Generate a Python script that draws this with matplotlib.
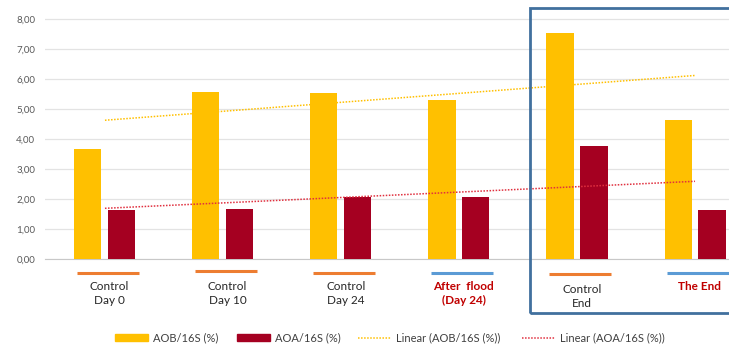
import numpy as np
import matplotlib.pyplot as plt
from matplotlib.patches import Patch, Rectangle
from matplotlib.lines import Line2D

plt.rcParams['font.family'] = ['Lato', 'DejaVu Sans']

groups = ["Control\nDay 0", "Control\nDay 10", "Control\nDay 24",
          "After  flood\n(Day 24)", "Control\nEnd", "The End"]
aob = [3.67, 5.57, 5.53, 5.30, 7.53, 4.63]
aoa = [1.63, 1.67, 2.07, 2.07, 3.77, 1.63]
flooded = [False, False, False, True, False, True]

yellow = "#FFC000"
darkred = "#A50021"
trendred = "#E0303F"
orange = "#ED7D31"
blue = "#5B9BD5"

x = np.arange(len(groups))
w = 0.229
off = 0.144

fig = plt.figure(figsize=(7.29, 3.49), dpi=100)
ax = fig.add_axes([45 / 729, 90 / 349, 684 / 729, 246 / 349])

ax.bar(x - off, aob, width=w, color=yellow, zorder=3)
ax.bar(x + off, aoa, width=w, color=darkred, zorder=3)

# linear trend lines over the group positions
for vals, col in [(aob, yellow), (aoa, trendred)]:
    k, b = np.polyfit(x + 1, vals, 1)
    ax.plot(x, k * (x + 1) + b, linestyle=(0, (1, 1)), color=col, lw=1.1, zorder=4)

ax.set_xlim(-0.508, 5.288)
ax.set_ylim(0, 8.2)
ax.set_yticks(np.arange(0, 9, 1))
ax.set_yticklabels([f"{v:.2f}".replace(".", ",") for v in range(9)],
                   fontsize=7, color="#595959")
ax.set_xticks([])
ax.grid(axis="y", color="#E3E3E3", lw=0.9, zorder=0)
for s in ["top", "right", "left"]:
    ax.spines[s].set_visible(False)
ax.spines["bottom"].set_color("#C8C8C8")
ax.tick_params(axis="y", length=0, pad=7)

# coloured markers and labels under each group
mark_y = [-0.47, -0.40, -0.47, -0.47, -0.50, -0.47]
for i, g in enumerate(groups):
    col = blue if flooded[i] else orange
    ax.plot([i - 0.24, i + 0.29], [mark_y[i]] * 2, color=col, lw=2.2,
            solid_capstyle="butt", clip_on=False)
    tcol = "#C00000" if flooded[i] else "#262626"
    fw = "bold" if flooded[i] else "normal"
    ty = -0.72 if i != 4 else -0.82
    ax.text(i + 0.04, ty, g, ha="center", va="top", fontsize=8.5,
            color=tcol, fontweight=fw, linespacing=1.35, clip_on=False)

fig.patches.append(Rectangle((530 / 729, 36 / 349), 220 / 729, 305 / 349,
                             transform=fig.transFigure, fill=False,
                             edgecolor="#41709E", lw=2, zorder=5))

# legend entries placed one by one along the bottom
handles = [Patch(color=yellow), Patch(color=darkred),
           Line2D([], [], color=yellow, linestyle=(0, (1, 1)), lw=1.1),
           Line2D([], [], color=trendred, linestyle=(0, (1, 1)), lw=1.1)]
labels = ["AOB/16S (%)", "AOA/16S (%)", "Linear (AOB/16S (%))", "Linear (AOA/16S (%))"]
starts = [115, 237, 358, 522]
for h, lab, sx in zip(handles, labels, starts):
    leg = fig.legend([h], [lab], loc="center left",
                     bbox_to_anchor=(sx / 729, 11 / 349), frameon=False,
                     fontsize=8, handlelength=3.0, handleheight=0.6,
                     handletextpad=0.45, borderpad=0, borderaxespad=0)
    leg.get_texts()[0].set_color("#404040")

fig.savefig("out.png", dpi=100)
